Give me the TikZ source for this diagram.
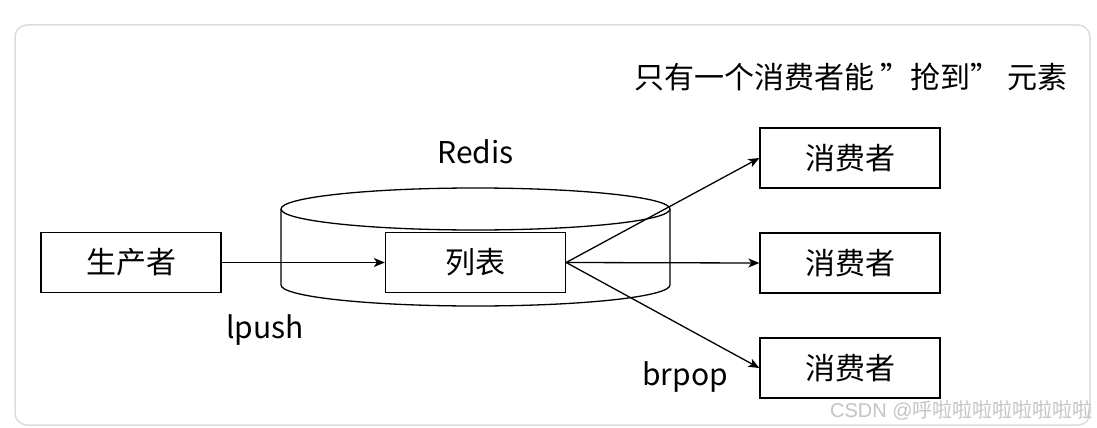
\documentclass[tikz,border=0pt]{standalone}
\usepackage{fontspec}
\setmainfont{Noto Sans CJK SC}
\newfontfamily\wmlatin{Liberation Sans}
\usetikzlibrary{arrows.meta}
\definecolor{framegray}{HTML}{DCDCE0}
\definecolor{wmgray}{HTML}{C4C4C4}
\tikzset{
  box/.style={draw=black, line width=1.3pt, minimum width=180pt, minimum height=60pt, inner sep=0pt, font=\fontsize{30}{34}\selectfont},
  conn/.style={line width=1.3pt, -{Stealth[length=11pt,width=9pt,inset=3pt]}},
  lbl/.style={font=\fontsize{30}{34}\selectfont, inner sep=0pt}
}
\begin{document}
\begin{tikzpicture}[x=1pt,y=-1pt]
\useasboundingbox (0,0) rectangle (1097,428);
\fill[white] (0,0) rectangle (1097,428);
\draw[framegray, line width=1.5pt, rounded corners=12pt] (15,25) rectangle (1090,425);
% cylinder
\draw[line width=1.3pt] (281,209) -- (281,285) arc[start angle=180, end angle=360, x radius=194.5pt, y radius=21pt] -- (670,209);
\draw[line width=1.3pt, fill=white] (475.5,209) ellipse [x radius=194.5pt, y radius=21pt];
\node[box] (prod) at (131,262.5) {生产者};
\node[box] (list) at (475.5,262.5) {列表};
\node[box] (c1) at (850,158) {消费者};
\node[box] (c2) at (850,263) {消费者};
\node[box] (c3) at (850,368) {消费者};
\draw[conn] (prod.east) -- (list.west);
\draw[conn] (list.east) -- (c1.west);
\draw[conn] (list.east) -- (c2.west);
\draw[conn] (list.east) -- (c3.west);
\node[lbl] (redis) at (475.5,152) {Redis};
\node[lbl] (lpush) at (265,330) {lpush};
\node[lbl] (brpop) at (685,377) {brpop};
\node[lbl, anchor=west] (title) at (634,77) {只有一个消费者能 ”抢到” 元素};
\node[font=\fontsize{20}{22}\selectfont, text=wmgray, anchor=west, inner sep=0pt] (wm) at (830,410) {{\wmlatin CSDN @}呼啦啦啦啦啦啦啦啦};
\end{tikzpicture}
\end{document}
